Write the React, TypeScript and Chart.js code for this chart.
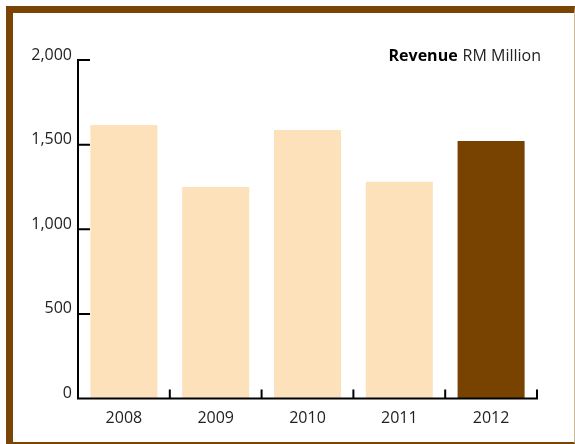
import React, { useEffect, useRef } from "react";
import { Chart, registerables } from "chart.js";

Chart.register(...registerables);

const categories = ["2008", "2009", "2010", "2011", "2012"];
const revenue = [1616, 1250, 1587, 1280, 1522];
const barColors = ["#FDE1BA", "#FDE1BA", "#FDE1BA", "#FDE1BA", "#784300"];
const yTicks = [0, 500, 1000, 1500, 2000];
const titleBold = "Revenue";
const titleRest = "RM Million";

const FONT = "'Open Sans', 'Noto Sans', sans-serif";

const axesPlugin = {
  id: "customAxes",
  afterDatasetsDraw(chart: any) {
    const { ctx, chartArea, scales } = chart;
    const x = scales.x;
    const y = scales.y;
    const left = chartArea.left;
    const right = chartArea.right;
    const bottom = chartArea.bottom;
    ctx.save();
    ctx.strokeStyle = "#000";
    ctx.lineWidth = 2;
    ctx.lineCap = "square";
    ctx.beginPath();
    ctx.moveTo(left, y.getPixelForValue(yTicks[yTicks.length - 1]));
    ctx.lineTo(left, bottom);
    ctx.lineTo(right, bottom);
    ctx.stroke();
    ctx.lineCap = "butt";
    ctx.beginPath();
    yTicks.forEach((v) => {
      if (v === 0) return;
      const py = y.getPixelForValue(v);
      ctx.moveTo(left, py);
      ctx.lineTo(left + 12, py);
    });
    for (let i = 0; i < categories.length; i++) {
      let px: number;
      if (i < categories.length - 1) {
        px = (x.getPixelForValue(i) + x.getPixelForValue(i + 1)) / 2;
      } else {
        px = right;
      }
      ctx.moveTo(px, bottom);
      ctx.lineTo(px, bottom - 9);
    }
    ctx.stroke();

    // title
    const size = 16;
    ctx.textBaseline = "alphabetic";
    ctx.textAlign = "left";
    ctx.font = `700 ${size}px ${FONT}`;
    const wb = ctx.measureText(titleBold).width;
    ctx.font = `400 ${size}px ${FONT}`;
    const wr = ctx.measureText(titleRest).width;
    const gap = 5;
    const endX = 541;
    const startX = endX - wb - gap - wr;
    ctx.fillStyle = "#000";
    ctx.font = `700 ${size}px ${FONT}`;
    ctx.fillText(titleBold, startX, 61);
    ctx.fillStyle = "#222";
    ctx.font = `400 ${size}px ${FONT}`;
    ctx.fillText(titleRest, startX + wb + gap, 61);
    ctx.restore();
  },
};

export default function App() {
  const ref = useRef<HTMLCanvasElement | null>(null);
  useEffect(() => {
    if (!ref.current) return;
    const chart = new Chart(ref.current, {
      type: "bar",
      data: {
        labels: categories,
        datasets: [
          {
            label: "Revenue",
            data: revenue,
            backgroundColor: barColors,
            borderWidth: 0,
            categoryPercentage: 1,
            barPercentage: 0.73,
          },
        ],
      },
      options: {
        animation: false,
        responsive: false,
        maintainAspectRatio: false,
        devicePixelRatio: 1,
        layout: { padding: { top: 60, right: 38, left: 0, bottom: 0 } },
        plugins: {
          legend: { display: false },
          tooltip: { enabled: false },
          title: { display: false },
        },
        scales: {
          x: {
            grid: { display: false, drawTicks: false },
            border: { display: false },
            ticks: {
              color: "#222",
              font: { family: FONT, size: 16 },
              padding: 10,
              maxRotation: 0,
            },
            afterFit: (s: any) => {
              s.height = 45.5;
            },
          },
          y: {
            min: 0,
            max: 2000,
            grid: { display: false, drawTicks: false },
            border: { display: false },
            afterBuildTicks: (s: any) => {
              s.ticks = yTicks.map((v) => ({ value: v }));
            },
            ticks: {
              color: "#222",
              font: { family: FONT, size: 16 },
              padding: 6,
              labelOffset: -5,
              callback: (v: any) => Number(v).toLocaleString("en-US"),
            },
            afterFit: (s: any) => {
              s.width = 78;
            },
          },
        },
      },
      plugins: [axesPlugin],
    });
    return () => chart.destroy();
  }, []);

  return (
    <div style={{ position: "fixed", left: 0, top: 0, width: 575, height: 444, background: "#fff" }}>
      <div
        style={{
          position: "absolute",
          left: 6,
          top: 6,
          width: 569,
          height: 438,
          boxSizing: "border-box",
          borderLeft: "7px solid #7A4407",
          borderTop: "7px solid #7A4407",
          borderRight: "1px solid #C8B898",
          borderBottom: "2px solid #7A4407",
        }}
      />
      <canvas
        ref={ref}
        width={575}
        height={444}
        style={{ position: "absolute", left: 0, top: 0, width: 575, height: 444 }}
      />
    </div>
  );
}
